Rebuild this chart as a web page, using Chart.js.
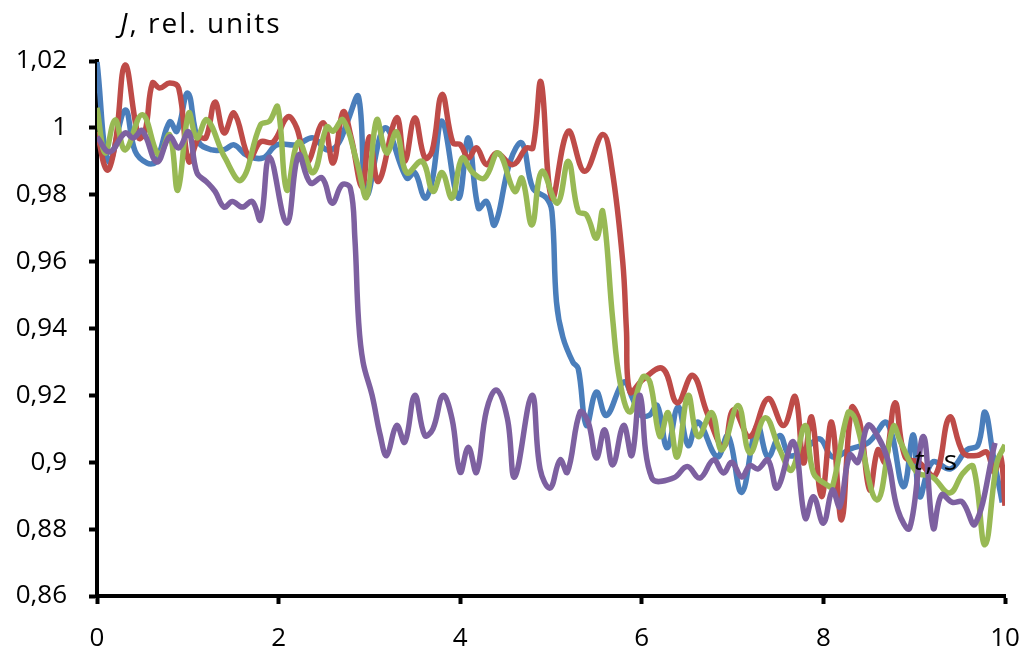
<!DOCTYPE html>
<html>
<head>
<meta charset="utf-8">
<script src="https://cdn.jsdelivr.net/npm/chart.js@4.4.1/dist/chart.umd.min.js"></script>
<style>
  html, body { margin: 0; padding: 0; background: #fff; }
  canvas { display: block; }
</style>
</head>
<body>
<canvas id="jChart" width="1027" height="652"></canvas>
<script>
// values: time (s) and J (rel. units) per curve
const blueT = [0, 0.13, 0.31, 0.42, 0.55, 0.65, 0.8, 0.88, 1.0, 1.12, 1.27, 1.4, 1.51, 1.65, 1.83, 1.98, 2.2, 2.38, 2.53, 2.65, 2.76, 2.88, 2.97, 3.17, 3.41, 3.5, 3.61, 3.69, 3.8, 3.98, 4.09, 4.2, 4.29, 4.38, 4.55, 4.68, 4.8, 4.95, 5.01, 5.06, 5.13, 5.24, 5.3, 5.39, 5.5, 5.61, 5.8, 5.9, 5.98, 6.08, 6.17, 6.28, 6.4, 6.51, 6.62, 6.83, 6.95, 7.1, 7.27, 7.39, 7.52, 7.63, 7.8, 7.96, 8.1, 8.3, 8.5, 8.7, 8.88, 8.99, 9.06, 9.2, 9.4, 9.58, 9.7, 9.78, 9.87, 9.97];
const blueJ = [1.0197, 0.9898, 1.0053, 0.993, 0.9895, 0.990, 1.0018, 0.999, 1.0104, 0.9958, 0.9934, 0.9935, 0.9949, 0.9918, 0.991, 0.9949, 0.995, 0.997, 0.9934, 0.995, 1.002, 1.0093, 0.980, 1.0, 0.985, 0.9866, 0.979, 0.984, 1.002, 0.979, 0.997, 0.976, 0.978, 0.971, 0.990, 0.9955, 0.982, 0.979, 0.975, 0.948, 0.9375, 0.930, 0.928, 0.911, 0.921, 0.914, 0.924, 0.919, 0.9142, 0.914, 0.917, 0.9043, 0.9166, 0.905, 0.912, 0.9016, 0.908, 0.891, 0.911, 0.9016, 0.908, 0.902, 0.904, 0.907, 0.9016, 0.904, 0.906, 0.9118, 0.8927, 0.9082, 0.8897, 0.900, 0.898, 0.9037, 0.905, 0.915, 0.902, 0.888];

const redT = [0, 0.11, 0.2, 0.31, 0.46, 0.53, 0.61, 0.69, 0.8, 0.9, 1.01, 1.12, 1.2, 1.3, 1.4, 1.51, 1.68, 1.8, 1.94, 2.1, 2.2, 2.31, 2.49, 2.6, 2.71, 2.8, 2.92, 3.0, 3.1, 3.3, 3.39, 3.5, 3.61, 3.69, 3.8, 3.92, 4.0, 4.09, 4.18, 4.29, 4.4, 4.58, 4.73, 4.8, 4.89, 5.01, 5.19, 5.37, 5.57, 5.67, 5.79, 5.83, 5.87, 6.01, 6.23, 6.39, 6.56, 6.72, 6.9, 7.01, 7.19, 7.39, 7.56, 7.69, 7.78, 7.87, 7.98, 8.09, 8.2, 8.31, 8.4, 8.51, 8.6, 8.68, 8.79, 8.9, 9.05, 9.23, 9.39, 9.54, 9.69, 9.8, 9.88, 9.95, 10];
const redJ = [0.9988, 0.9874, 0.995, 1.0188, 0.997, 0.999, 1.0134, 1.0119, 1.0134, 1.0119, 0.990, 0.997, 0.997, 1.0077, 0.9985, 1.0044, 0.991, 0.9958, 0.9958, 1.0033, 1.0, 0.9895, 1.0015, 0.9895, 1.0048, 0.997, 0.9823, 0.9973, 0.984, 1.003, 0.990, 1.003, 0.991, 0.993, 1.010, 0.9955, 0.995, 0.991, 0.994, 0.989, 0.9925, 0.989, 0.994, 0.994, 1.0137, 0.979, 0.999, 0.987, 0.998, 0.988, 0.960, 0.940, 0.921, 0.9247, 0.928, 0.9178, 0.926, 0.9147, 0.9046, 0.9157, 0.9077, 0.919, 0.911, 0.9196, 0.8998, 0.9135, 0.8897, 0.912, 0.8828, 0.9163, 0.912, 0.8917, 0.9037, 0.900, 0.9178, 0.9016, 0.900, 0.896, 0.9135, 0.9028, 0.902, 0.903, 0.897, 0.902, 0.887];

const greenT = [0, 0.09, 0.2, 0.31, 0.5, 0.68, 0.8, 0.89, 1.01, 1.1, 1.21, 1.41, 1.59, 1.8, 1.9, 1.99, 2.09, 2.22, 2.38, 2.53, 2.6, 2.71, 2.86, 2.97, 3.08, 3.19, 3.3, 3.41, 3.58, 3.7, 3.8, 3.91, 4.02, 4.14, 4.27, 4.42, 4.6, 4.68, 4.79, 4.9, 5.07, 5.19, 5.3, 5.39, 5.5, 5.57, 5.68, 5.76, 5.87, 6.01, 6.09, 6.2, 6.29, 6.39, 6.51, 6.62, 6.77, 6.88, 7.06, 7.19, 7.36, 7.52, 7.65, 7.8, 7.89, 8.04, 8.1, 8.27, 8.35, 8.59, 8.77, 8.85, 9.03, 9.2, 9.39, 9.54, 9.65, 9.78, 9.91, 10];
const greenJ = [1.006, 0.9925, 1.0024, 0.9934, 1.0039, 0.9919, 0.9979, 0.9814, 1.0044, 0.997, 1.0024, 0.991, 0.9844, 1.0009, 1.002, 1.0063, 0.9814, 0.9958, 0.9866, 1.0003, 0.999, 1.0024, 0.990, 0.9793, 1.0024, 0.9925, 0.9988, 0.9866, 0.990, 0.981, 0.9866, 0.979, 0.991, 0.9866, 0.985, 0.9925, 0.981, 0.985, 0.971, 0.987, 0.9775, 0.990, 0.975, 0.974, 0.967, 0.975, 0.9426, 0.924, 0.915, 0.9255, 0.924, 0.9077, 0.9148, 0.9016, 0.920, 0.9077, 0.9148, 0.9037, 0.917, 0.9028, 0.9133, 0.9037, 0.8977, 0.911, 0.8968, 0.8932, 0.8927, 0.9148, 0.913, 0.8887, 0.9107, 0.906, 0.897, 0.8956, 0.8908, 0.8968, 0.8987, 0.8753, 0.8998, 0.9052];

const purpleT = [0, 0.14, 0.31, 0.4, 0.5, 0.66, 0.8, 0.9, 1.01, 1.1, 1.21, 1.3, 1.4, 1.49, 1.6, 1.71, 1.8, 1.9, 2.09, 2.22, 2.35, 2.48, 2.59, 2.7, 2.79, 2.84, 2.88, 2.93, 3.03, 3.12, 3.19, 3.3, 3.39, 3.5, 3.61, 3.7, 3.81, 3.91, 4.0, 4.09, 4.18, 4.29, 4.4, 4.52, 4.6, 4.79, 4.88, 4.99, 5.1, 5.18, 5.32, 5.41, 5.5, 5.59, 5.68, 5.8, 5.89, 5.98, 6.11, 6.35, 6.5, 6.64, 6.79, 6.9, 6.99, 7.1, 7.19, 7.28, 7.39, 7.49, 7.67, 7.8, 7.89, 8.0, 8.1, 8.18, 8.29, 8.38, 8.49, 8.6, 8.71, 8.82, 8.95, 9.1, 9.21, 9.3, 9.42, 9.53, 9.67, 9.89];
const purpleJ = [0.9973, 0.9928, 0.9985, 0.997, 0.9991, 0.9898, 0.9973, 0.994, 0.9988, 0.9866, 0.9838, 0.981, 0.9763, 0.978, 0.9763, 0.978, 0.9725, 0.9913, 0.9715, 0.9919, 0.9835, 0.985, 0.9775, 0.983, 0.982, 0.967, 0.9426, 0.930, 0.920, 0.908, 0.902, 0.911, 0.906, 0.920, 0.908, 0.910, 0.920, 0.913, 0.897, 0.9045, 0.897, 0.9156, 0.9216, 0.913, 0.8956, 0.920, 0.898, 0.8923, 0.9007, 0.897, 0.915, 0.912, 0.9013, 0.9097, 0.8992, 0.911, 0.902, 0.920, 0.8953, 0.8953, 0.8987, 0.8953, 0.9007, 0.8968, 0.900, 0.8956, 0.899, 0.898, 0.9007, 0.8923, 0.9061, 0.8833, 0.8897, 0.8818, 0.8917, 0.8867, 0.9022, 0.900, 0.911, 0.9077, 0.9007, 0.8857, 0.8803, 0.9077, 0.8803, 0.8902, 0.888, 0.8881, 0.8815, 0.9058];

const xTicks = [0, 2, 4, 6, 8, 10];
const yTicks = [0.86, 0.88, 0.9, 0.92, 0.94, 0.96, 0.98, 1, 1.02];

const FONT = "'Open Sans', 'Liberation Sans', sans-serif";

function points(ts, js) {
    return ts.map((t, i) => ({ x: t, y: js[i] }));
}

function series(label, ts, js, color, order) {
    return {
        label: label,
        data: points(ts, js),
        borderColor: color,
        backgroundColor: color,
        borderWidth: 5.5,
        pointRadius: 0,
        tension: 0.4,
        fill: false,
        order: order,
    };
}

// italic letter followed by plain text, spaced out a little like the original
function caption(ctx, letter, rest, x, y) {
    ctx.letterSpacing = '2px';
    ctx.font = "italic 28px " + FONT;
    ctx.fillText(letter, x, y);
    const w = ctx.measureText(letter).width;
    ctx.font = "28px " + FONT;
    ctx.fillText(rest, x + w, y);
}

const axisCaptions = {
    id: 'axisCaptions',
    afterDraw(chart) {
        const ctx = chart.ctx;
        ctx.save();
        ctx.fillStyle = '#000';
        ctx.textBaseline = 'alphabetic';
        ctx.textAlign = 'left';
        caption(ctx, 'J', ', rel. units', 120, 33);
        caption(ctx, 't', ', s', 914, 470);
        ctx.restore();
    }
};

const ctx = document.getElementById('jChart').getContext('2d');

new Chart(ctx, {
    type: 'line',
    data: {
        datasets: [
            series('1', blueT, blueJ, '#4A7EBB', 4),
            series('2', redT, redJ, '#BE4B48', 3),
            series('3', greenT, greenJ, '#98B954', 2),
            series('4', purpleT, purpleJ, '#7D60A0', 1),
        ],
    },
    options: {
        responsive: false,
        animation: false,
        layout: {
            padding: { top: 61, right: 22, left: 0, bottom: 0 },
        },
        plugins: {
            legend: { display: false },
            tooltip: { enabled: false },
        },
        scales: {
            x: {
                type: 'linear',
                min: 0,
                max: 10,
                afterFit: (scale) => {
                    scale.height = 56;
                    scale.paddingLeft = 0;
                    scale.paddingRight = 0;
                },
                afterBuildTicks: (scale) => {
                    scale.ticks = xTicks.map(v => ({ value: v }));
                },
                grid: {
                    drawOnChartArea: false,
                    tickLength: 8,
                    tickWidth: 4,
                    tickColor: '#000',
                },
                border: { color: '#000', width: 4 },
                ticks: {
                    color: '#000',
                    padding: 19,
                    maxRotation: 0,
                    font: { family: FONT, size: 26 },
                },
            },
            y: {
                type: 'linear',
                min: 0.86,
                max: 1.02,
                afterFit: (scale) => {
                    scale.width = 97;
                    scale.paddingTop = 0;
                    scale.paddingBottom = 0;
                },
                afterBuildTicks: (scale) => {
                    scale.ticks = yTicks.map(v => ({ value: v }));
                },
                grid: {
                    drawOnChartArea: false,
                    tickLength: 8,
                    tickWidth: 4,
                    tickColor: '#000',
                },
                border: { color: '#000', width: 4 },
                ticks: {
                    color: '#000',
                    padding: 22,
                    font: { family: FONT, size: 26 },
                    callback: (v) => String(Number(v.toFixed(2))).replace('.', ','),
                },
            },
        },
    },
    plugins: [axisCaptions],
});
</script>
</body>
</html>
